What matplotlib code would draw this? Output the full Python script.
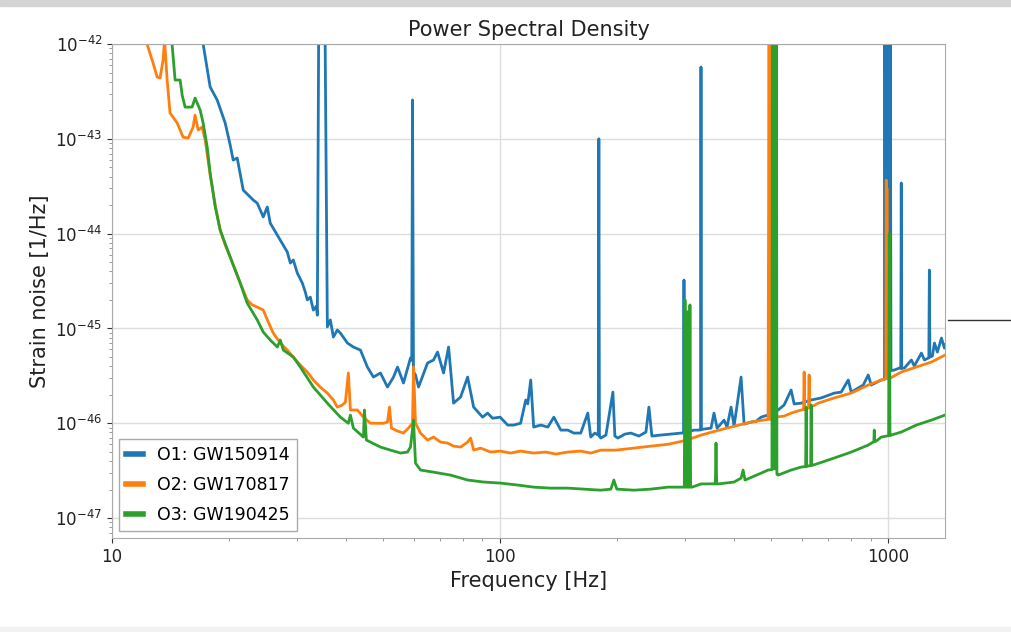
import numpy as np
import matplotlib
matplotlib.use('Agg')
import matplotlib.pyplot as plt
from matplotlib.ticker import ScalarFormatter, NullFormatter, LogLocator, FixedLocator
from matplotlib.patches import Rectangle
from matplotlib.lines import Line2D

#######
# DATA: (frequency [Hz], PSD [1/Hz])
#######
labels = ['O1: GW150914', 'O2: GW170817', 'O3: GW190425']
colors = ['#1f77b4', '#ff7f0e', '#2ca02c']
x_ticks = [10, 100, 1000]
y_ticks = [1e-47, 1e-46, 1e-45, 1e-44, 1e-43, 1e-42]

o1 = [(16.87, 3e-42), (17.17, 1.0e-42), (17.90, 3.52e-43), (18.66, 2.57e-43), (19.57, 1.47e-43), (20.16, 8.6e-44),
      (20.52, 5.97e-44), (21.02, 6.27e-44), (21.78, 2.88e-44), (23.12, 2.26e-44), (23.67, 2.10e-44), (24.53, 1.50e-44),
      (25.12, 1.91e-44), (25.57, 1.29e-44), (27.14, 8.55e-45), (27.63, 7.59e-45), (28.29, 6.40e-45), (28.80, 4.90e-45),
      (29.32, 5.27e-45), (30.02, 3.84e-45), (30.93, 3.01e-45), (31.48, 2.42e-45), (31.86, 2.0e-45), (32.43, 2.14e-45),
      (33.02, 1.56e-45), (33.61, 1.72e-45), (33.81, 1.38e-45), (34.11, 3e-42), (35.34, 3e-42), (35.88, 1.04e-45),
      (36.52, 1.23e-45), (37.18, 8.11e-46), (38.07, 9.62e-46), (38.76, 8.94e-46), (40.41, 7.02e-46), (41.87, 6.37e-46),
      (43.65, 5.92e-46), (45.50, 3.92e-46), (47.15, 3.07e-46), (49.16, 3.39e-46), (51.26, 2.41e-46), (53.12, 3.07e-46),
      (54.40, 3.92e-46), (56.36, 2.66e-46), (58.75, 4.88e-46), (59.2, 4.6e-46), (59.46, 2.57e-43), (59.8, 3.5e-46),
      (60.53, 3.23e-46), (61.62, 2.41e-46), (65.01, 4.32e-46), (67.37, 4.65e-46), (68.99, 5.64e-46), (71.49, 3.39e-46),
      (73.65, 6.37e-46), (75.86, 1.63e-46), (79.09, 1.89e-46), (82.45, 3.07e-46), (85.45, 1.48e-46), (90.13, 1.16e-46),
      (92.85, 1.28e-46), (95.64, 1.13e-46), (100.0, 1.16e-46), (104.6, 9.57e-47), (108.3, 9.57e-47), (112.9, 1.0e-46),
      (116.4, 1.76e-46), (117.8, 1.60e-46), (119.9, 2.86e-46), (122.0, 9.12e-47), (127.2, 9.57e-47), (132.7, 9.12e-47),
      (137.5, 1.16e-46), (143.3, 8.47e-47), (149.4, 8.47e-47), (154.8, 7.88e-47), (161.3, 7.88e-47), (168.2, 1.28e-46),
      (171.2, 7.15e-47), (175.4, 7.88e-47), (179.0, 7.5e-47), (179.6, 1.0e-43), (180.2, 7.3e-47), (181.7, 6.98e-47),
      (187.3, 7.51e-47), (195.2, 2.13e-46), (197.5, 7.33e-47), (201.1, 6.98e-47), (209.6, 7.69e-47), (217.2, 7.88e-47),
      (227.8, 7.33e-47), (237.5, 8.08e-47), (241.7, 1.48e-46), (246.0, 7.33e-47), (259.5, 7.51e-47), (275.4, 7.69e-47),
      (292.4, 7.88e-47), (296.8, 7.9e-47), (297.6, 3.24e-45), (298.4, 8.0e-47), (303.0, 8.08e-47), (315.8, 8.47e-47),
      (323.4, 8.47e-47), (328.4, 8.5e-47), (329.2, 5.72e-43), (330.0, 8.6e-47), (335.2, 8.69e-47), (349.4, 8.89e-47),
      (355.6, 1.28e-46), (362.2, 8.89e-47), (377.5, 1.08e-46), (384.2, 9.12e-47), (393.5, 1.48e-46), (400.6, 9.34e-47),
      (417.6, 3.07e-46), (425.1, 9.81e-47), (443.2, 1.03e-46), (456.5, 1.05e-46), (470.2, 1.16e-46), (490.1, 1.22e-46),
      (499.0, 1.25e-46), (501.9, 3e-42), (505.0, 1.3e-46), (520.2, 1.38e-46), (539.1, 1.56e-46), (561.9, 2.24e-46),
      (572.1, 1.60e-46), (596.3, 1.63e-46), (632.9, 1.76e-46), (671.6, 1.85e-46), (725.5, 2.08e-46), (756.2, 2.13e-46),
      (788.6, 2.86e-46), (802.8, 2.13e-46), (861.9, 2.53e-46), (887.9, 3.23e-46), (903.7, 2.53e-46), (959.2, 2.86e-46),
      (978, 2.9e-46), (980, 3e-42), (983, 3.5e-46), (986, 3e-42), (989, 3.5e-46), (992, 3e-42), (995, 3.5e-46),
      (998, 3e-42), (1001, 3.5e-46), (1004, 3e-42), (1008, 3.5e-46), (1012, 3e-42), (1016, 3.6e-46), (1036, 3.64e-46),
      (1068, 3.82e-46), (1077, 3.8e-46), (1080, 3.42e-44), (1083, 3.8e-46), (1100, 3.82e-46), (1147, 4.65e-46),
      (1167, 4.01e-46), (1217, 5.50e-46), (1239, 4.65e-46), (1272, 4.9e-46), (1276, 4.13e-45), (1280, 5.0e-46),
      (1299, 5.11e-46), (1315, 7.02e-46), (1338, 5.64e-46), (1371, 7.92e-46), (1395, 6.21e-46), (1400, 6.68e-46)]

o2 = [(12.09, 3e-42), (12.31, 1.0e-42), (12.76, 6.30e-43), (13.07, 4.49e-43), (13.30, 4.38e-43), (13.54, 6.78e-43),
      (13.66, 1.1e-42), (13.87, 4.17e-43), (14.11, 1.87e-43), (14.72, 1.47e-43), (15.25, 1.04e-43), (15.71, 1.02e-43),
      (16.18, 1.33e-43), (16.37, 1.78e-43), (16.67, 1.24e-43), (17.07, 1.33e-43), (17.38, 9.71e-44), (17.90, 4.15e-44),
      (18.45, 2.0e-44), (19.00, 1.09e-44), (19.57, 7.59e-45), (20.16, 5.66e-45), (20.77, 4.13e-45), (21.40, 3.01e-45),
      (22.30, 2.0e-45), (22.98, 1.77e-45), (23.67, 1.68e-45), (24.53, 1.56e-45), (25.27, 1.17e-45), (26.03, 8.94e-46),
      (27.14, 7.02e-46), (28.29, 5.92e-46), (29.32, 4.99e-46), (30.56, 4.11e-46), (31.86, 3.47e-46), (33.02, 2.86e-46),
      (34.38, 2.41e-46), (35.88, 2.08e-46), (37.18, 1.76e-46), (38.07, 1.48e-46), (39.22, 1.56e-46), (39.93, 1.67e-46),
      (40.64, 3.39e-46), (41.13, 1.38e-46), (42.89, 1.38e-46), (44.44, 1.16e-46), (46.33, 1.0e-46), (48.29, 1.0e-46),
      (50.04, 1.0e-46), (51.26, 1.03e-46), (51.86, 1.48e-46), (52.48, 8.89e-47), (54.40, 8.28e-47), (56.36, 7.88e-47),
      (58.05, 8.89e-47), (59.46, 1.0e-46), (59.81, 3.92e-46), (60.53, 1.0e-46), (62.35, 7.88e-47), (65.01, 6.65e-47),
      (67.37, 7.15e-47), (70.23, 6.33e-47), (73.21, 6.18e-47), (75.86, 5.74e-47), (79.09, 5.61e-47), (82.45, 6.33e-47),
      (83.93, 6.98e-47), (85.45, 5.21e-47), (89.07, 5.47e-47), (94.52, 4.97e-47), (100.0, 5.09e-47), (106.4, 4.85e-47),
      (112.9, 5.09e-47), (122.0, 4.85e-47), (131.1, 4.97e-47), (139.1, 4.73e-47), (149.4, 4.97e-47), (161.3, 5.09e-47),
      (171.2, 4.85e-47), (181.7, 5.21e-47), (198.6, 5.21e-47), (221.1, 5.47e-47), (244.6, 5.74e-47), (270.6, 6.0e-47),
      (301.2, 6.6e-47), (329.2, 7.5e-47), (359.9, 8.3e-47), (400.6, 9.3e-47), (443.2, 1.03e-46), (490.1, 1.10e-46),
      (493.1, 3e-42), (495, 1.1e-46), (497, 3e-42), (499, 1.1e-46), (501.9, 3e-42), (503.5, 1.12e-46), (511.0, 1.16e-46),
      (539.1, 1.19e-46), (561.9, 1.28e-46), (596.3, 1.38e-46), (605, 1.4e-46), (607.1, 3.47e-46), (609, 1.4e-46),
      (614.3, 1.41e-46), (623, 1.45e-46), (625.3, 3.23e-46), (627, 1.46e-46), (632.9, 1.48e-46), (659.8, 1.63e-46),
      (725.5, 1.85e-46), (802.8, 2.08e-46), (887.9, 2.53e-46), (959.2, 2.86e-46), (985, 2.95e-46), (988.1, 3.67e-44),
      (990, 2.95e-46), (992, 3.0e-44), (994, 2.95e-46), (1012, 3.0e-46), (1080, 3.47e-46), (1181, 3.92e-46),
      (1291, 4.42e-46), (1400, 5.24e-46)]

o3 = [(14.11, 3e-42), (14.28, 1.0e-42), (14.54, 4.17e-43), (14.98, 4.17e-43), (15.16, 2.90e-43), (15.43, 2.16e-43),
      (16.08, 2.16e-43), (16.37, 2.69e-43), (16.87, 2.01e-43), (17.17, 1.47e-43), (17.59, 8.2e-44), (17.90, 4.36e-44),
      (18.45, 1.91e-44), (19.00, 1.09e-44), (20.16, 5.66e-45), (21.40, 3.01e-45), (22.30, 1.85e-45), (23.67, 1.23e-45),
      (24.53, 9.16e-46), (25.57, 7.55e-46), (26.66, 6.37e-46), (27.14, 7.55e-46), (27.63, 5.92e-46), (29.32, 4.99e-46),
      (30.56, 3.92e-46), (33.02, 2.41e-46), (35.88, 1.63e-46), (38.76, 1.16e-46), (40.64, 1.0e-46), (41.13, 1.22e-46),
      (41.87, 8.89e-47), (44.44, 7.15e-47), (44.70, 1.38e-46), (45.23, 6.65e-47), (49.16, 5.61e-47), (52.17, 5.21e-47),
      (55.38, 4.85e-47), (57.70, 4.97e-47), (58.75, 5.61e-47), (59.81, 1.08e-46), (60.53, 3.80e-47), (62.35, 3.21e-47),
      (67.37, 3.05e-47), (74.53, 2.84e-47), (82.45, 2.52e-47), (90.67, 2.40e-47), (100.0, 2.34e-47), (111.0, 2.23e-47),
      (122.0, 2.12e-47), (135.0, 2.07e-47), (149.4, 2.07e-47), (164.2, 2.02e-47), (181.7, 1.97e-47), (192.9, 2.02e-47),
      (196.3, 2.52e-47), (199.8, 2.02e-47), (221.1, 1.97e-47), (244.6, 2.02e-47), (270.6, 2.12e-47), (292.4, 2.12e-47),
      (298.2, 2.12e-47), (299.4, 2.0e-45), (300.6, 2.12e-47), (302.6, 2.12e-47), (303.8, 1.5e-45), (305.0, 2.12e-47),
      (307.1, 2.12e-47), (308.3, 1.77e-45), (309.5, 2.12e-47), (312.1, 2.12e-47), (329.2, 2.29e-47), (358.5, 2.3e-47),
      (359.9, 6.18e-47), (361.3, 2.3e-47), (364.3, 2.29e-47), (400.6, 2.40e-47), (417.6, 2.64e-47), (422.6, 3.21e-47),
      (427.6, 2.52e-47), (470.2, 2.98e-47), (490.1, 3.21e-47), (501.5, 3.25e-47), (503, 3e-42), (505, 3.3e-47),
      (507, 3e-42), (509, 3.3e-47), (511, 3e-42), (513, 3.3e-47), (515, 3e-42), (516.5, 2.9e-47), (520.2, 2.84e-47),
      (561.9, 3.21e-47), (596.3, 3.45e-47), (612.5, 3.5e-47), (614.3, 1.48e-46), (616, 3.5e-47), (621.6, 3.54e-47),
      (631, 3.6e-47), (632.9, 1.56e-46), (634.5, 3.6e-47), (640.4, 3.62e-47), (725.5, 4.30e-47), (802.8, 4.97e-47),
      (887.9, 5.89e-47), (918, 6.4e-47), (920.2, 8.47e-47), (922, 6.4e-47), (931.1, 6.49e-47), (959.2, 7.15e-47),
      (1002, 7.4e-47), (1006, 1.0e-44), (1010, 7.4e-47), (1018, 7.51e-47), (1080, 8.08e-47), (1181, 9.57e-47),
      (1291, 1.08e-46), (1400, 1.22e-46)]

#######
# PLOT
#######
fig = plt.figure(figsize=(10.12, 6.32), dpi=100)
ax = fig.add_axes([112/1012, 1-538/632, (945-112)/1012, (538-44)/632])

for data, lab, col in zip([o1, o2, o3], labels, colors):
	f, p = zip(*data)
	ax.plot(f, p, color=col, lw=2.0, label=lab)

ax.set_xscale('log')
ax.set_yscale('log')
ax.set_xlim(10, 1400)
ax.set_ylim(10**-47.21, 1e-42)

# only in-range ticks so no label sits outside the figure
ax.xaxis.set_major_locator(FixedLocator(x_ticks))
ax.xaxis.set_major_formatter(ScalarFormatter())
ax.xaxis.set_minor_formatter(NullFormatter())
ax.yaxis.set_major_locator(FixedLocator(y_ticks))
ax.yaxis.set_minor_locator(LogLocator(base=10, subs=np.arange(2, 10), numticks=20))
ax.yaxis.set_minor_formatter(NullFormatter())

ax.grid(True, which='major', color='#dddddd', lw=1.0)
for s in ax.spines.values():
	s.set_color('#aaaaaa')
ax.tick_params(labelsize=12, colors='#333333', labelcolor='#222222')
ax.tick_params(which='minor', colors='#888888')

ax.set_title('Power Spectral Density', fontsize=15, color='#222222')
ax.set_xlabel('Frequency [Hz]', fontsize=15, color='#222222')
ax.set_ylabel('Strain noise [1/Hz]', fontsize=15, color='#222222')

leg = ax.legend(loc='lower left', fontsize=12.5, handlelength=1.0, framealpha=1.0, fancybox=False,
                edgecolor='#aaaaaa', borderaxespad=0.4, labelspacing=0.7)
for l in leg.get_lines():
	l.set_linewidth(4)

# screenshot framing
fig.patches.append(Rectangle((0, 1-6/632), 1, 6/632, transform=fig.transFigure, color='#d4d4d4', zorder=-1))
fig.patches.append(Rectangle((0, 0), 1, 5/632, transform=fig.transFigure, color='#f2f2f2', zorder=-1))
fig.add_artist(Line2D([948/1012, 1], [1-320/632, 1-320/632], transform=fig.transFigure, color='#333333', lw=1))

fig.savefig('out.png', dpi=100)
